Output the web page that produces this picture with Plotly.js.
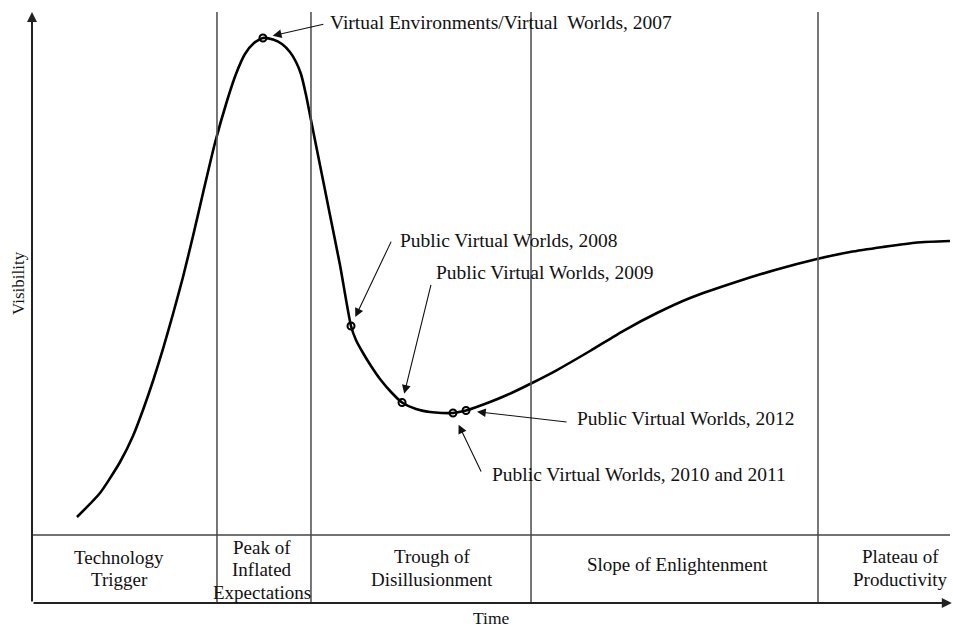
<!DOCTYPE html>
<html><head><meta charset="utf-8">
<script src="https://cdn.plot.ly/plotly-3.0.1.min.js"></script>
<style>html,body{margin:0;padding:0;background:#fff}#chart{width:953px;height:628px}</style>
</head><body><div id="chart"></div>
<script>
// ---- data (time 0-100, visibility 0-100) ----
const curveTime = [4.90, 7.41, 9.59, 11.00, 12.09, 13.18, 14.27, 15.36, 16.45, 17.54, 18.63, 19.93, 21.24, 22.22, 23.20, 24.18, 25.16, 26.25, 27.23, 28.10, 28.76, 29.30, 29.85, 30.39, 31.37, 32.46, 33.55, 34.75, 35.29, 36.06, 36.93, 37.91, 39.11, 40.31, 41.83, 43.36, 44.66, 45.86, 47.28, 49.89, 51.74, 54.47, 57.19, 60.78, 64.38, 68.08, 71.68, 76.36, 80.94, 85.51, 89.11, 92.70, 96.41, 100.00];
const curveVisibility = [14.55, 18.61, 23.86, 28.26, 32.66, 37.56, 42.98, 48.90, 55.16, 62.10, 69.37, 77.83, 84.94, 89.51, 92.89, 94.75, 95.60, 95.35, 94.59, 93.23, 91.54, 89.51, 85.96, 81.73, 74.11, 65.65, 57.19, 46.87, 44.50, 42.30, 40.10, 37.90, 35.70, 33.93, 32.83, 32.32, 32.15, 32.15, 32.57, 34.01, 35.19, 37.23, 39.42, 42.64, 46.02, 49.07, 51.61, 54.15, 56.35, 58.21, 59.39, 60.24, 61.00, 61.25];

const markerLabels = ["Virtual Environments/Virtual&nbsp; Worlds, 2007", "Public Virtual Worlds, 2008", "Public Virtual Worlds, 2009", "Public Virtual Worlds, 2010 and 2011", "Public Virtual Worlds, 2012"];
const markerTime = [25.16, 34.75, 40.31, 45.86, 47.28];
const markerVisibility = [95.60, 46.87, 33.93, 32.15, 32.57];

const phaseNames = ["Technology<br>Trigger", "Peak of<br>Inflated<br>Expectations", "Trough of<br>Disillusionment", "Slope of Enlightenment", "Plateau of<br>Productivity"];
const phaseBounds = [20.15, 30.39, 54.36, 85.62];

// ---- layout helpers (positions, not data) ----
const phaseLabelX = [9.5, 25.0, 43.6, 70.3, 94.6];
const phaseLabelCenterPx = [568.5, 569.5, 568, 564, 568];
const bandTopV = 11.5;
const callouts = [
  {tx: 32.2, tv: 98.3, ax: 31.9, av: 98.0, standoff: 10},
  {tx: 39.9, tv: 61.4, ax: 39.2, av: 61.4, standoff: 10},
  {tx: 43.8, tv: 56.0, ax: 43.5, av: 54.1, standoff: 9},
  {tx: 49.9, tv: 21.8, ax: 49.0, av: 22.0, standoff: 13},
  {tx: 59.2, tv: 31.3, ax: 58.4, av: 30.6, standoff: 11}
];

const FONT = "Liberation Serif, Times New Roman, serif";
const plotTop = 12, plotBottom = 603, plotH = plotBottom - plotTop;

const traces = [
  {x: curveTime, y: curveVisibility, type: 'scatter', mode: 'lines',
   line: {color: '#000', width: 2.6, shape: 'spline', smoothing: 0.6},
   hoverinfo: 'skip', cliponaxis: false},
  {x: markerTime, y: markerVisibility, type: 'scatter', mode: 'markers',
   marker: {symbol: 'circle-open', size: 7, color: '#000', line: {width: 2, color: '#000'}},
   text: markerLabels, hoverinfo: 'text', cliponaxis: false}
];

const shapes = [];
phaseBounds.forEach(b => shapes.push({type: 'line', xref: 'x', yref: 'y', x0: b, x1: b, y0: 0, y1: 100,
  line: {color: '#555', width: 1.6}}));
shapes.push({type: 'line', xref: 'x', yref: 'y', x0: 0, x1: 100, y0: bandTopV, y1: bandTopV,
  line: {color: '#444', width: 1.6}});

const annotations = [];
// axis arrows
annotations.push({x: 0, y: 100, ax: 0, ay: 0, axref: 'x', ayref: 'y', xref: 'x', yref: 'y', text: '',
  showarrow: true, arrowhead: 2, arrowsize: 1.0, arrowwidth: 2, arrowcolor: '#222'});
annotations.push({x: 100.2, y: 0, ax: 0, ay: 0, axref: 'x', ayref: 'y', xref: 'x', yref: 'y', text: '',
  showarrow: true, arrowhead: 2, arrowsize: 1.0, arrowwidth: 2, arrowcolor: '#222'});
// axis titles
annotations.push({xref: 'paper', yref: 'paper', x: (18 - 32) / 918, y: (plotBottom - 283) / plotH,
  text: 'Visibility', textangle: -90, showarrow: false, font: {family: FONT, size: 17, color: '#111'},
  xanchor: 'center', yanchor: 'middle'});
annotations.push({xref: 'paper', yref: 'paper', x: (492 - 32) / 918, y: (plotBottom - 618) / plotH,
  text: 'Time', showarrow: false, font: {family: FONT, size: 17.5, color: '#111'},
  xanchor: 'center', yanchor: 'middle'});
// phase labels, one annotation per line for tight line spacing
phaseNames.forEach((name, i) => {
  const lines = name.split('<br>');
  const n = lines.length;
  lines.forEach((ln, j) => {
    const py = phaseLabelCenterPx[i] + (j - (n - 1) / 2) * 22.5;
    annotations.push({xref: 'x', yref: 'paper', x: phaseLabelX[i], y: (plotBottom - py) / plotH,
      text: ln, showarrow: false, font: {family: FONT, size: 19, color: '#111'},
      xanchor: 'center', yanchor: 'middle'});
  });
});
// callouts
markerLabels.forEach((lab, i) => {
  const c = callouts[i];
  annotations.push({xref: 'x', yref: 'y', x: markerTime[i], y: markerVisibility[i],
    axref: 'x', ayref: 'y', ax: c.ax, ay: c.av, text: '', showarrow: true,
    arrowhead: 2, arrowsize: 1.6, arrowwidth: 1.1, arrowcolor: '#111', standoff: c.standoff});
  annotations.push({xref: 'x', yref: 'y', x: c.tx, y: c.tv, text: lab, showarrow: false,
    xanchor: 'left', yanchor: 'middle', font: {family: FONT, size: 19.5, color: '#111'}});
});

const layout = {
  width: 953, height: 628,
  margin: {l: 32, r: 3, t: plotTop, b: 628 - plotBottom, pad: 0},
  paper_bgcolor: '#fff', plot_bgcolor: '#fff',
  showlegend: false,
  xaxis: {range: [0, 100], showgrid: false, zeroline: false, showticklabels: false, ticks: '', showline: false, fixedrange: true},
  yaxis: {range: [0, 100], showgrid: false, zeroline: false, showticklabels: false, ticks: '', showline: false, fixedrange: true},
  shapes: shapes,
  annotations: annotations,
  font: {family: FONT, color: '#111'}
};

Plotly.newPlot('chart', traces, layout, {displayModeBar: false, staticPlot: true});
</script>
</body></html>
